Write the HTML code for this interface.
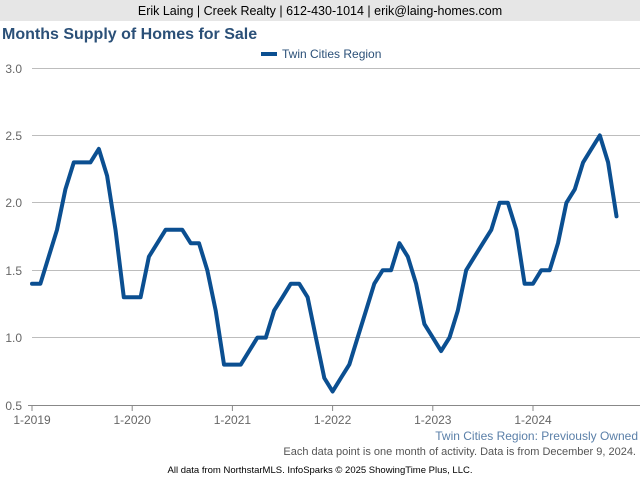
<!DOCTYPE html>
<html><head><meta charset="utf-8">
<style>
body{margin:0;width:640px;height:480px;overflow:hidden;background:#fff;font-family:"Liberation Sans",sans-serif;}
</style></head>
<body>
<svg width="640" height="480" xmlns="http://www.w3.org/2000/svg" font-family="Liberation Sans, sans-serif">
<rect x="0" y="0" width="640" height="21" fill="#e6e6e6"/>
<text x="320" y="15" font-size="12.5" text-anchor="middle" fill="#000">Erik Laing | Creek Realty | 612-430-1014 | erik@laing-homes.com</text>
<text x="2" y="39" font-size="16" font-weight="bold" fill="#2b5078">Months Supply of Homes for Sale</text>
<line x1="261" y1="54" x2="277" y2="54" stroke="#0b4f91" stroke-width="4"/>
<text x="282" y="58" font-size="12" fill="#2b5078">Twin Cities Region</text>
<g stroke="#bdbdbd" stroke-width="1">
<line x1="32" y1="68.5" x2="640" y2="68.5"/>
<line x1="32" y1="135.5" x2="640" y2="135.5"/>
<line x1="32" y1="202.5" x2="640" y2="202.5"/>
<line x1="32" y1="270.5" x2="640" y2="270.5"/>
<line x1="32" y1="337.5" x2="640" y2="337.5"/>
</g>
<line x1="28" y1="405.5" x2="640" y2="405.5" stroke="#888" stroke-width="1"/>
<g font-size="12" fill="#666" text-anchor="end">
<text x="22" y="73">3.0</text><text x="22" y="140">2.5</text><text x="22" y="207">2.0</text>
<text x="22" y="275">1.5</text><text x="22" y="342">1.0</text><text x="22" y="410">0.5</text>
</g>
<g id="xt" font-size="12" fill="#666" text-anchor="middle"></g>
<polyline id="ln" fill="none" stroke="#0b4f91" stroke-width="4" stroke-linejoin="round" stroke-linecap="round"/>
<text x="638" y="440" font-size="12" fill="#5a7fa8" text-anchor="end">Twin Cities Region: Previously Owned</text>
<text x="636" y="455" font-size="11" fill="#555" text-anchor="end">Each data point is one month of activity. Data is from December 9, 2024.</text>
<text x="320" y="473" font-size="9.5" fill="#000" text-anchor="middle">All data from NorthstarMLS. InfoSparks © 2025 ShowingTime Plus, LLC.</text>
</svg>
<script>
var d=[1.4,1.4,1.6,1.8,2.1,2.3,2.3,2.3,2.4,2.2,1.8,1.3,
1.3,1.3,1.6,1.7,1.8,1.8,1.8,1.7,1.7,1.5,1.2,0.8,
0.8,0.8,0.9,1.0,1.0,1.2,1.3,1.4,1.4,1.3,1.0,0.7,
0.6,0.7,0.8,1.0,1.2,1.4,1.5,1.5,1.7,1.6,1.4,1.1,
1.0,0.9,1.0,1.2,1.5,1.6,1.7,1.8,2.0,2.0,1.8,1.4,
1.4,1.5,1.5,1.7,2.0,2.1,2.3,2.4,2.5,2.3,1.9];
var s=8.35;
var pts=d.map(function(v,i){return (32+i*s).toFixed(1)+","+(405-(v-0.5)*134.8).toFixed(1)}).join(" ");
document.getElementById("ln").setAttribute("points",pts);
var g=document.getElementById("xt"),h="";
for(var y=0;y<6;y++){var x=32+y*12*s;h+='<line x1="'+x+'" y1="405" x2="'+x+'" y2="411" stroke="#888"/><text x="'+x+'" y="424">1-'+(2019+y)+'</text>';}
g.innerHTML=h;
</script>
</body></html>
